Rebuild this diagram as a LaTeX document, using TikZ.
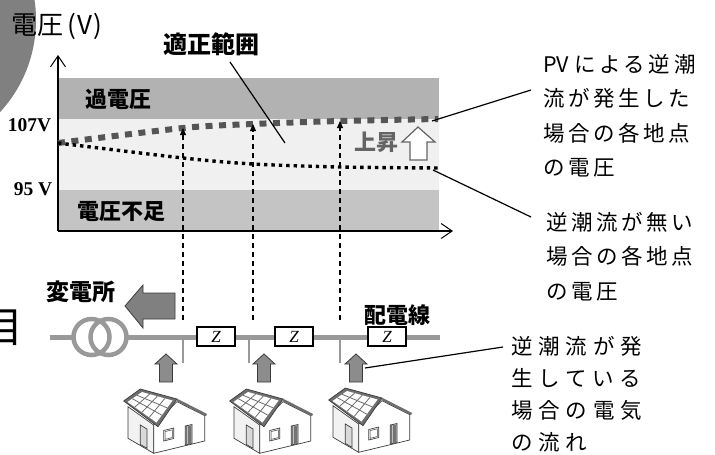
\documentclass[tikz,border=0pt]{standalone}
\usepackage{fontspec}
\newfontfamily\jp{Noto Sans CJK JP}
\newfontfamily\jpsp[LetterSpace=17]{Noto Sans CJK JP}
\newfontfamily\jpwide[LetterSpace=27]{Noto Sans CJK JP}
\newfontfamily\tnr{Liberation Serif}
\usetikzlibrary{arrows.meta,calc}

\definecolor{bandhi}{RGB}{178,178,178}
\definecolor{bandmid}{RGB}{240,240,240}
\definecolor{bandlo}{RGB}{196,196,196}
\definecolor{disc}{RGB}{128,128,128}
\definecolor{wire}{RGB}{153,153,153}
\definecolor{pvline}{RGB}{85,85,85}
\definecolor{flow}{RGB}{140,140,140}
\definecolor{rise}{RGB}{100,100,100}
\definecolor{roofgray}{RGB}{110,110,110}
\definecolor{wallside}{RGB}{242,242,242}
\definecolor{outline}{RGB}{60,60,60}

\tikzset{
  boldlbl/.style={font=\jp\bfseries\fontsize{22}{22}\selectfont, inner sep=0pt},
  volt/.style={font=\tnr\bfseries\fontsize{19.5}{19.5}\selectfont, inner sep=0pt},
  note/.style={font=\jpsp\fontsize{21.5}{34.5}\selectfont, align=left, inner sep=0pt, anchor=north west},
  notewide/.style={font=\jpwide\fontsize{21.5}{32}\selectfont, align=left, inner sep=0pt, anchor=north west},
  axis/.style={line width=1.1pt, -{Straight Barb[length=11pt,width=15pt,line width=1pt]}},
  pvcurve/.style={line width=6pt, pvline, dash pattern=on 7pt off 6.5pt},
  nocurve/.style={line width=3.4pt, black, dash pattern=on 3.4pt off 4pt},
  vdash/.style={line width=1.1pt, dash pattern=on 5pt off 4pt, -{Triangle[length=7pt,width=6pt]}},
  leader/.style={line width=1.2pt, black},
  wireline/.style={line width=5pt, wire},
  xfmr/.style={line width=4.5pt, wire},
  branch/.style={line width=1.6pt, wire},
  zbox/.style={draw, line width=1.3pt, fill=white, minimum width=38pt, minimum height=19pt, inner sep=0pt, font=\tnr\itshape\fontsize{17}{17}\selectfont},
  blockarrow/.style={fill=flow, draw=outline, line width=0.8pt},
  hline/.style={draw=outline, line width=0.7pt},
  house/.pic={
    % side wall under the solar roof
    \filldraw[hline, fill=wallside] (6,21.7) -- (31.7,40) -- (31.7,68.3) -- (6,53.3) -- cycle;
    % gable wall
    \filldraw[hline, fill=white] (31.7,40) -- (55,16.7) -- (82.7,30.7) -- (82.7,56) -- (31.7,68.3) -- cycle;
    % gable roof edge
    \draw[roofgray, line width=2.4pt] (55,15) -- (84.5,30);
    % roof slope with its panels
    \filldraw[hline, fill=roofgray] (18.3,4) -- (55,14) -- (36,41.7) -- (1.7,16) -- cycle;
    \coordinate (-A) at (20,7);
    \coordinate (-B) at (50.5,15.5);
    \coordinate (-C) at (34.5,37.5);
    \coordinate (-D) at (5.5,17);
    \fill[white] (-A) -- (-B) -- (-C) -- (-D) -- cycle;
    \foreach \t in {0.25,0.5,0.75}
      \draw[roofgray, line width=0.8pt] ($(-A)!\t!(-B)$) -- ($(-D)!\t!(-C)$);
    \foreach \t in {0.333,0.667}
      \draw[roofgray, line width=0.8pt] ($(-A)!\t!(-D)$) -- ($(-B)!\t!(-C)$);
    % door
    \filldraw[hline, fill=black!15] (18.3,40) -- (25,44) -- (25,63.3) -- (18.3,59.5) -- cycle;
    % window
    \filldraw[hline, fill=white] (41.7,45.5) -- (51.7,43) -- (51.7,53.5) -- (41.7,56) -- cycle;
    \draw[outline, line width=0.5pt] (43,46.6) -- (50.4,44.8) -- (50.4,52.5) -- (43,54.4) -- cycle;
    % vent grille
    \filldraw[hline, fill=black!25] (63.3,41) -- (70,39.5) -- (70,58.5) -- (63.3,60) -- cycle;
    \foreach \g in {64.6,65.9,67.2,68.5}
      \draw[black!55, line width=0.5pt] (\g,41) -- (\g,59.2);
  },
  uparrow/.pic={
    \filldraw[blockarrow] (0,0) -- (11,10) -- (6.5,10) -- (6.5,28) -- (-6.5,28) -- (-6.5,10) -- (-11,10) -- cycle;
  }
}

\begin{document}
\begin{tikzpicture}[x=1pt,y=-1pt]
\useasboundingbox (0,0) rectangle (715,455);
\fill[white] (0,0) rectangle (715,455);

% grey disc in the upper left corner
\fill[disc] (-100,20) circle[radius=136pt];
% large glyph at the left edge
\node[font=\jp\fontsize{42}{42}\selectfont, inner sep=0pt] (side) at (2,328) {目};

% voltage bands
\fill[bandhi] (58,78) rectangle (439,119);
\fill[bandmid] (58,119) rectangle (439,190);
\fill[bandlo] (58,190) rectangle (439,231);

% axes
\coordinate (O) at (58,231);
\coordinate (ytop) at (58,55);
\coordinate (xend) at (453,231);
\draw[axis] (O) -- (ytop);
\draw[axis] (O) -- (xend);

\node[font=\jp\fontsize{26}{26}\selectfont, inner sep=0pt, anchor=west] (ylabel) at (11,26.5) {電圧\hspace{4pt}(\hspace{1.5pt}V\hspace{1.5pt})};
\node[font=\jp\bfseries\fontsize{24}{24}\selectfont, inner sep=0pt] (ok) at (211.5,44) {適正範囲};
\node[boldlbl] (over) at (118.5,99) {過電圧};
\node[boldlbl] (under) at (121.5,212) {電圧不足};
\node[volt] (v107) at (29.5,125) {107V};
\node[volt] (v95) at (33,189.5) {95 V};

% voltage profiles
\coordinate (p0) at (58,143);
\coordinate (u1) at (183,128);
\coordinate (u2) at (253,124);
\coordinate (u3) at (340,121);
\coordinate (p4) at (438,119);
\draw[pvcurve] plot[smooth] coordinates {(p0) (u1) (u2) (u3) (p4)};
\coordinate (d1) at (183,158);
\coordinate (d2) at (253,164);
\coordinate (d3) at (340,167);
\coordinate (d4) at (438,168);
\draw[nocurve] plot[smooth] coordinates {(p0) (d1) (d2) (d3) (d4)};

% rise marker
\node[font=\jp\bfseries\fontsize{22}{22}\selectfont, text=rise, inner sep=0pt] (up) at (376,142.5) {上昇};
\filldraw[fill=white, draw=rise, line width=1.2pt] (418,127) -- (435,142) -- (427,142) -- (427,160) -- (410,160) -- (410,142) -- (402,142) -- cycle;

% leader from the band label
\coordinate (okA) at (230,62);
\coordinate (okB) at (285,143);
\draw[leader] (okA) -- (okB);

% explanatory notes
\node[note] (n1) at (543,54) {{\jp PV\hspace{5pt}}による逆潮\\流が発生した\\場合の各地点\\の電圧};
\node[note] (n2) at (546,212) {逆潮流が無い\\場合の各地点\\の電圧};
\node[notewide] (n3) at (511,336) {逆潮流が発\\生している\\場合の電気\\の流れ};

\coordinate (l1a) at (432,121);
\coordinate (l1b) at (531,90);
\draw[leader] (l1a) -- (l1b);
\coordinate (l2a) at (433,170);
\coordinate (l2b) at (531,217);
\draw[leader] (l2a) -- (l2b);

% distribution line
\coordinate (w0) at (50,337);
\coordinate (w1) at (440,337);
\draw[wireline] (w0) -- (w1);
\fill[white] (91.5,337) circle[radius=18pt];
\fill[white] (108.5,337) circle[radius=18pt];
\draw[xfmr] (91.5,337) circle[radius=18pt];
\draw[xfmr] (108.5,337) circle[radius=18pt];

\node[font=\jp\bfseries\fontsize{23}{23}\selectfont, inner sep=0pt] (sub) at (81,291.5) {変電所};
\node[boldlbl] (line) at (397.5,315) {配電線};

% flow towards the substation
\filldraw[blockarrow, fill=disc] (125,306) -- (143,285) -- (143,293) -- (175,293) -- (175,319) -- (143,319) -- (143,328) -- cycle;

% line impedances
\node[zbox] (z1) at (216,336.5) {Z};
\node[zbox] (z2) at (294,336.5) {Z};
\node[zbox] (z3) at (387,336.5) {Z};

% service drops
\foreach \i/\x in {1/183,2/249,3/340}{
  \coordinate (t\i) at (\x,339.5);
  \coordinate (s\i) at (\x,363);
  \draw[branch] (t\i) -- (s\i);
}

% dashed projections up to the raised profile
\coordinate (b1) at (183,320);
\coordinate (b2) at (253,320);
\coordinate (b3) at (340,320);
\draw[vdash] (b1) -- (u1);
\draw[vdash] (b2) -- (u2);
\draw[vdash] (b3) -- (u3);

% reverse power flow from the houses
\pic at (166,354) {uparrow};
\pic at (264,354) {uparrow};
\pic at (356,354) {uparrow};

\coordinate (l3a) at (365,368);
\coordinate (l3b) at (503,347);
\draw[leader] (l3a) -- (l3b);

% houses with rooftop PV
\pic (h1) at (122,385) {house};
\pic (h2) at (228,385) {house};
\pic (h3) at (327,384) {house};
\end{tikzpicture}
\end{document}
